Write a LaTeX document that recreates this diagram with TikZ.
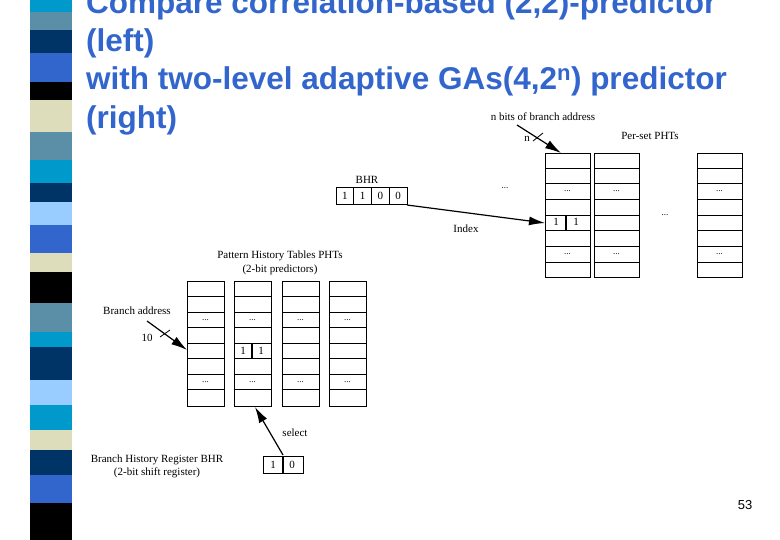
\documentclass[tikz,border=0pt]{standalone}
\usepackage{fontspec}
\setmainfont{Liberation Serif}
\newfontfamily\sansf{Liberation Sans}
\usetikzlibrary{arrows.meta}
\definecolor{sCyan}{HTML}{0099CC}
\definecolor{sGray}{HTML}{5B8FA8}
\definecolor{sNavy}{HTML}{003366}
\definecolor{sBlue}{HTML}{3366CC}
\definecolor{sBeige}{HTML}{DDDDBB}
\definecolor{sLight}{HTML}{99CCFF}
\definecolor{titleblue}{HTML}{3366CC}
\begin{document}
\begin{tikzpicture}[x=1pt,y=-1pt,
  lbl/.style={font=\fontsize{11}{12}\selectfont,inner sep=0pt,anchor=center},
  dots/.style={font=\fontsize{9}{9}\selectfont,inner sep=0pt},
  cell/.style={draw,line width=0.7pt},
  arr/.style={line width=1.2pt,-{Latex[length=16pt,width=9pt]}},
  ttl/.style={font=\sansf\bfseries\fontsize{31.5}{34}\selectfont,text=titleblue,anchor=base west,inner sep=0pt}]
\useasboundingbox (0,0) rectangle (780,540);
% stripe
\foreach \a/\b/\c in {0/12/sCyan,12/30/sGray,30/53/sNavy,53/82/sBlue,82/100/black,100/132/sBeige,132/160/sGray,160/183/sCyan,183/202/sNavy,202/225/sLight,225/253/sBlue,253/272/sBeige,272/303/black,303/332/sGray,332/347/sCyan,347/380/sNavy,380/405/sLight,405/430/sCyan,430/450/sBeige,450/475/sNavy,475/503/sBlue,503/540/black}
  \fill[\c] (30,\a) rectangle (72,\b);
% title
\node[ttl] (t1) at (86,14) {Compare correlation-based (2,2)-predictor};
\node[ttl] (t2) at (86,52) {(left)};
\node[ttl] (t3) at (86,90) {with two-level adaptive GAs(4,2\textsuperscript{n}) predictor};
\node[ttl] (t4) at (86,129) {(right)};
% left PHTs
\node[lbl] (pht) at (280,256) {Pattern History Tables PHTs};
\node[lbl] (pht2) at (280,270) {(2-bit predictors)};
\foreach \x in {187,234,282,329}{
  \draw[cell] (\x,281) rectangle ++(37,125);
  \foreach \y in {296,312,327,343,358,374,389} \draw[line width=0.9pt] (\x,\y) -- ++(37,0);
  \node[dots] at (\x+18.5,320) {...};
  \node[dots] at (\x+18.5,382) {...};
}
\draw[cell] (234,343) rectangle (271,358);
\draw[line width=1.2pt] (252,343) -- (252,358);
\node[lbl] (l1a) at (243,351) {1};
\node[lbl] (l1b) at (261,351) {1};
\coordinate (lphtin) at (187,350);
\coordinate (lphtsel) at (255,407);
\node[lbl] (ba) at (137,311) {Branch address};
\node[lbl] (ten) at (147,338) {10};
\coordinate (bastart) at (147,321);
\draw[arr] (bastart) -- (lphtin);
\draw[line width=0.8pt] (160,337) -- (170,330);
% left BHR
\node[lbl] (bhrl) at (157,460) {Branch History Register BHR};
\node[lbl] (bhrl2) at (157,473) {(2-bit shift register)};
\draw[cell] (263,456) rectangle (303,473);
\draw[line width=1.2pt] (283,456) -- (283,473);
\node[lbl] (b1) at (273,465) {1};
\node[lbl] (b0) at (292,465) {0};
\coordinate (selstart) at (283,455);
\draw[arr] (selstart) -- (lphtsel);
\node[lbl] (sel) at (295,433) {select};
% right PHTs
\node[lbl] (nbits) at (543,117) {n bits of branch address};
\node[lbl] (nn) at (527,139) {n};
\node[lbl] (pset) at (650,136) {Per-set PHTs};
\foreach \x in {545,594,697}{
  \draw[cell] (\x,153) rectangle ++(45,124);
  \foreach \y in {168,183,199,215,230,246,262} \draw[line width=0.9pt] (\x,\y) -- ++(45,0);
  \node[dots] at (\x+22.5,191) {...};
  \node[dots] at (\x+22.5,254) {...};
}
\draw[cell] (545,215) rectangle (590,230);
\draw[line width=1.2pt] (566,215) -- (566,230);
\node[lbl] (r1a) at (556,222) {1};
\node[lbl] (r1b) at (576,222) {1};
\node[dots] (d1) at (505,188) {...};
\node[dots] (d2) at (665,215) {...};
\coordinate (rtop) at (561,153);
\coordinate (rin) at (545,223);
\coordinate (nstart) at (517,125);
\draw[arr] (nstart) -- (rtop);
\draw[line width=0.8pt] (533,141) -- (543,133);
% right BHR
\node[lbl] (bhrr) at (367,180) {BHR};
\foreach \i/\v in {0/1,1/1,2/0,3/0}{
  \draw[cell] (336+\i*17.75,187) rectangle ++(17.75,17);
  \node[lbl] at (336+\i*17.75+8.9,195.5) {\v};
}
\coordinate (rbhrout) at (407,205);
\draw[arr] (rbhrout) -- (rin);
\node[lbl] (idx) at (466,229) {Index};
% page number
\node[font=\sansf\fontsize{13}{14}\selectfont,inner sep=0pt] (pg) at (745,505) {53};
\end{tikzpicture}
\end{document}
